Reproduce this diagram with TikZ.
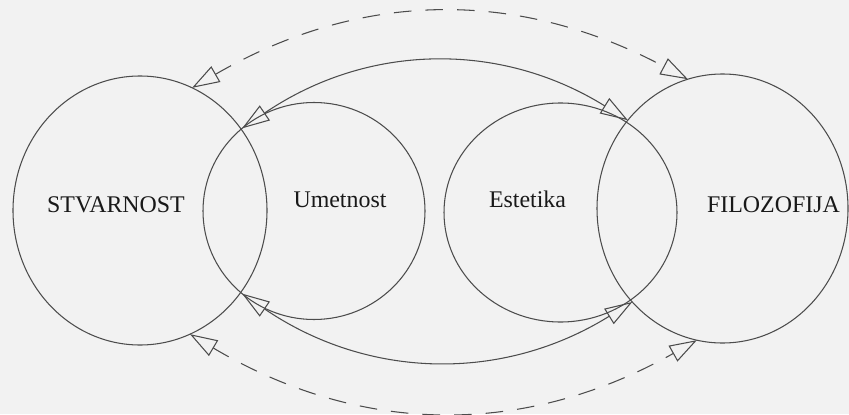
\documentclass[tikz,border=0pt]{standalone}
\usepackage{fontspec}
\setmainfont{Liberation Serif}
\usepackage{tikz}
\usetikzlibrary{arrows.meta,shapes.geometric}

\begin{document}
\begin{tikzpicture}[
  field/.style={ellipse,draw=black!70,line width=0.6pt,inner sep=0pt,outer sep=0pt},
  both/.style={black!70,line width=0.6pt,{Triangle[open,length=5.5mm,width=3.6mm]}-{Triangle[open,length=5.5mm,width=3.6mm]}},
  loose/.style={both,dash pattern=on 10pt off 8pt},
  word/.style={anchor=base,black!90,font=\fontsize{13.6}{16}\selectfont}]
  \fill[black!5] (0,0) rectangle (16.98,8.28);
  \useasboundingbox (0,0) rectangle (16.98,8.28);
  % the four fields
  \node[field,minimum width=5.08cm,minimum height=5.38cm] (stvarnost) at (2.80,4.07) {};
  \node[field,minimum width=4.44cm,minimum height=4.34cm] (umetnost) at (6.28,4.06) {};
  \node[field,minimum width=4.66cm,minimum height=4.38cm] (estetika) at (11.21,4.03) {};
  \node[field,minimum width=5.02cm,minimum height=5.38cm] (filozofija) at (14.45,4.11) {};
  \node[word] (t1) at (2.32,4.04) {STVARNOST};
  \node[word] (t2) at (6.80,4.14) {Umetnost};
  \node[word] (t3) at (10.55,4.14) {Estetika};
  \node[word] (t4) at (15.47,4.04) {FILOZOFIJA};
  % links
  \draw[loose] (stvarnost.67) to[bend left=29] (filozofija.105);
  \draw[both] (umetnost.131) to[bend left=33] (filozofija.137);
  \draw[both] (umetnost.-131) to[bend right=33] (filozofija.-134);
  \draw[loose] (stvarnost.-68) to[bend right=30] (filozofija.-101);
\end{tikzpicture}
\end{document}
